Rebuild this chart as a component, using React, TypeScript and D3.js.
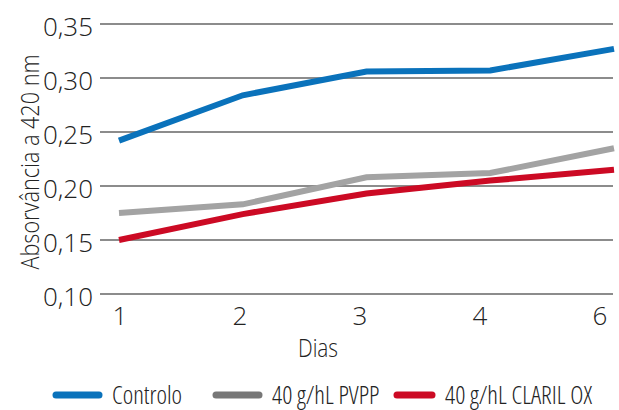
import React, { useRef, useEffect } from 'react';
import * as d3 from "d3";

const days = ["1", "2", "3", "4", "6"];
const controlo = [0.242, 0.284, 0.306, 0.307, 0.327];
const pvpp = [0.175, 0.183, 0.208, 0.212, 0.235];
const claril = [0.150, 0.174, 0.193, 0.205, 0.215];
const yTicks = [0.10, 0.15, 0.20, 0.25, 0.30, 0.35];
const seriesNames = ["Controlo", "40 g/hL PVPP", "40 g/hL CLARIL OX"];

const FONT = "'Open Sans', sans-serif";

function App() {
  const svgRef = useRef(null);
  useEffect(() => {
    const w = 619;
    const h = 410;
    const svg = d3.select(svgRef.current)
      .attr('width', w)
      .attr('height', h)
      .style('background', '#fff')
      .style('position', 'absolute')
      .style('left', 0)
      .style('top', 0);
    svg.selectAll('*').remove();

    const xScale = d3.scalePoint().domain(days).range([119, 614]);
    const xLabel = d3.scalePoint().domain(days).range([120, 600]);
    const yScale = d3.scaleLinear().domain([0.10, 0.35]).range([294, 24]);

    const txt = (sel: any, stretch = 'normal') => sel
      .style('font-family', FONT)
      .style('font-weight', 300)
      .style('font-stretch', stretch)
      .attr('fill', '#222');

    // gridlines
    svg.append('g').selectAll('line')
      .data(yTicks)
      .join('line')
      .attr('x1', 100).attr('x2', 613)
      .attr('y1', d => yScale(d)).attr('y2', d => yScale(d))
      .attr('stroke', '#1a1a1a')
      .attr('stroke-width', 1.2);

    svg.append('g').selectAll('text')
      .data(yTicks)
      .join('text')
      .call(txt)
      .attr('x', 93)
      .attr('y', d => yScale(d) + 12)
      .attr('text-anchor', 'end')
      .style('font-size', '26px')
      .text(d => d3.format('.2f')(d).replace('.', ','));

    svg.append('g').selectAll('text')
      .data(days)
      .join('text')
      .call(txt)
      .attr('x', d => xLabel(d)!)
      .attr('y', 325)
      .attr('text-anchor', 'middle')
      .style('font-size', '26px')
      .text(d => d);

    svg.append('text')
      .call(txt)
      .attr('x', 318).attr('y', 357)
      .attr('text-anchor', 'middle')
      .attr('textLength', 40)
      .attr('lengthAdjust', 'spacingAndGlyphs')
      .style('font-size', '25px')
      .text('Dias');

    svg.append('text')
      .call(txt)
      .attr('transform', 'translate(39,162) rotate(-90)')
      .attr('text-anchor', 'middle')
      .attr('textLength', 215)
      .attr('lengthAdjust', 'spacingAndGlyphs')
      .style('font-size', '25px')
      .text('Absorvância a 420 nm');

    const line = d3.line<number>()
      .x((d, i) => xScale(days[i])!)
      .y(d => yScale(d));

    const series = [
      { name: seriesNames[0], values: controlo, color: '#0a72bb', legend: '#0a72bb' },
      { name: seriesNames[1], values: pvpp, color: '#a3a3a3', legend: '#777777' },
      { name: seriesNames[2], values: claril, color: '#cc0a24', legend: '#cc0a24' },
    ];

    svg.append('g').selectAll('path')
      .data(series)
      .join('path')
      .attr('d', d => line(d.values))
      .attr('fill', 'none')
      .attr('stroke', d => d.color)
      .attr('stroke-width', 6);

    const legendX = [56, 216, 397];
    const legendLen = [43, 43, 35];
    const lg = svg.append('g').selectAll('g')
      .data(series)
      .join('g')
      .attr('transform', (d, i) => `translate(${legendX[i]}, 395)`);
    lg.append('line')
      .attr('x1', 0).attr('x2', (d, i) => legendLen[i])
      .attr('stroke', d => d.legend)
      .attr('stroke-width', 7)
      .attr('stroke-linecap', 'round');
    lg.append('text')
      .call(txt, '75%')
      .attr('x', (d, i) => legendLen[i] + 13).attr('y', 9)
      .style('font-size', '25px')
      .text(d => d.name);
  }, []);
  return <svg ref={svgRef}></svg>;
}

export default App
